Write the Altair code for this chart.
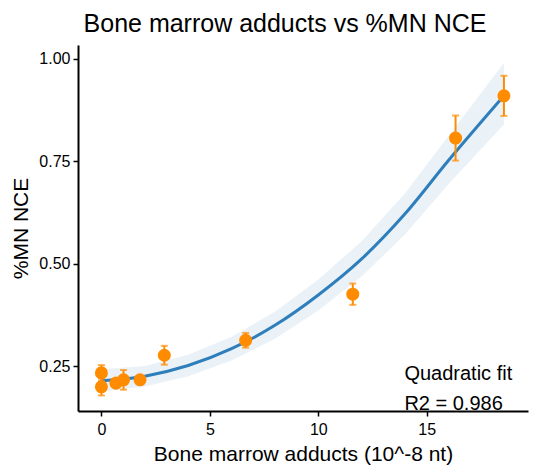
import altair as alt
import pandas as pd

# Observed points (mean %MN NCE) with error bar half-widths
adducts = [0.0, 0.0, 0.67, 1.02, 1.78, 2.90, 6.65, 11.59, 16.33, 18.56]
mn_nce = [0.234, 0.200, 0.209, 0.217, 0.217, 0.277, 0.3135, 0.426, 0.807, 0.910]
err = [0.019, 0.021, 0.010, 0.024, 0.008, 0.023, 0.018, 0.026, 0.055, 0.049]

# Quadratic fit curve and its confidence band
fit_x = [0.0, 2.0, 4.0, 6.0, 8.0, 10.0, 12.0, 14.0, 16.0, 18.56]
fit_y = [0.215, 0.226, 0.252, 0.293, 0.350, 0.424, 0.512, 0.622, 0.752, 0.910]
band_lo = [0.188, 0.201, 0.226, 0.264, 0.317, 0.386, 0.469, 0.572, 0.694, 0.840]
band_hi = [0.243, 0.251, 0.278, 0.322, 0.383, 0.462, 0.555, 0.672, 0.812, 0.990]

x_ticks = [0, 5, 10, 15]
y_ticks = [0.25, 0.50, 0.75, 1.00]

annot_text = ["Quadratic fit", "R2 = 0.986"]
annot_x = [13.97, 13.97]
annot_y = [0.2175, 0.1426]

FONT = "Liberation Sans"
ORANGE = "#FF8C00"
BLUE = "#2E7EBB"

pts = pd.DataFrame({"x": adducts, "y": mn_nce,
                    "lo": [m - e for m, e in zip(mn_nce, err)],
                    "hi": [m + e for m, e in zip(mn_nce, err)]})
fit = pd.DataFrame({"x": fit_x, "y": fit_y, "lo": band_lo, "hi": band_hi})
ann = pd.DataFrame({"t": annot_text, "x": annot_x, "y": annot_y})

xscale = alt.Scale(domain=[-1.08, 19.67], nice=False, zero=False)
yscale = alt.Scale(domain=[0.141, 1.034], nice=False, zero=False)
XT = "Bone marrow adducts (10^-8 nt)"
YT = "%MN NCE"

xenc = alt.X("x:Q", scale=xscale, title=XT,
             axis=alt.Axis(values=x_ticks, format="d"))
yaxis = alt.Axis(values=y_ticks, format=".2f")

band = alt.Chart(fit).mark_area(color=BLUE, opacity=0.1).encode(
    x=xenc, y=alt.Y("lo:Q", scale=yscale, title=YT, axis=yaxis), y2="hi:Q")

line = alt.Chart(fit).mark_line(color=BLUE, strokeWidth=3, interpolate="monotone").encode(
    x=xenc, y=alt.Y("y:Q", scale=yscale, title=YT, axis=yaxis))

ebar = alt.Chart(pts).mark_errorbar(
    color=ORANGE, thickness=2, size=7, ticks=True
).encode(x=xenc, y=alt.Y("lo:Q", scale=yscale, title=YT, axis=yaxis), y2="hi:Q")

points = alt.Chart(pts).mark_circle(color=ORANGE, size=170, opacity=1).encode(
    x=xenc, y=alt.Y("y:Q", scale=yscale, title=YT, axis=yaxis))

text = alt.Chart(ann).mark_text(align="left", baseline="alphabetic", fontSize=20,
                                font=FONT, color="black").encode(
    x=alt.X("x:Q", scale=xscale, title=XT),
    y=alt.Y("y:Q", scale=yscale, title=YT),
    text="t:N")

chart = alt.layer(band, line, ebar, points, text).properties(
    width=450, height=366,
    autosize=alt.AutoSizeParams(type="none"),
    padding={"left": 70, "top": 37, "right": 2, "bottom": 57},
    title=alt.TitleParams("Bone marrow adducts vs %MN NCE", font=FONT, fontSize=25,
                          fontWeight="normal", color="black", anchor="middle",
                          dx=-18, offset=8),
).configure_view(stroke=None).configure_axis(
    grid=False, domainColor="black", domainWidth=2, tickColor="black", tickWidth=1.5,
    tickSize=5, labelFont=FONT, labelFontSize=16, labelColor="black",
    titleFont=FONT, titleFontSize=21, titleFontWeight="normal", titleColor="black",
    labelPadding=3,
).configure_axisY(titlePadding=7).configure_axisX(titlePadding=6, labelPadding=5)

chart.save("out.html", embed_options={"renderer": "svg", "actions": False})
